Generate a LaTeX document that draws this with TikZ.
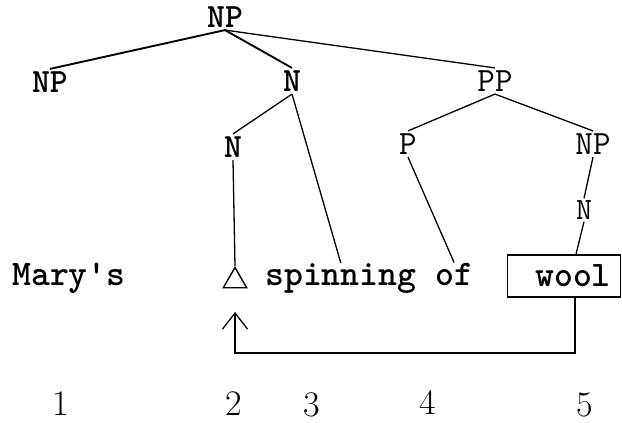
\documentclass[tikz,border=0pt]{standalone}
\usetikzlibrary{shapes.geometric,arrows.meta}
\begin{document}
\begin{tikzpicture}[x=1pt,y=-1pt,
  lab/.style={font=\fontsize{34}{36}\selectfont\ttfamily, inner sep=2.5pt},
  blab/.style={lab, font=\fontsize{34}{36}\selectfont\ttfamily\bfseries},
  slab/.style={font=\fontsize{31}{34}\selectfont\ttfamily, inner sep=2pt},
  word/.style={font=\fontsize{36}{40}\selectfont\ttfamily\bfseries, inner sep=0pt, anchor=base west},
  num/.style={font=\fontsize{36}{40}\selectfont, inner sep=0pt},
  edge/.style={line width=1.3pt},
  thick edge/.style={line width=1.9pt},
  arr/.style={line width=1.3pt, -{Straight Barb[length=16pt,width=25pt,line width=1.3pt]}}
]
\useasboundingbox (0,0) rectangle (622,423);
% tree labels
\node[blab] (nptop) at (225,17) {NP};
\node[blab] (npl)   at (50,82)  {NP};
\node[blab] (nmid)  at (292,81) {N};
\node[lab]  (pp)    at (495,81) {PP};
\node[blab] (nlow)  at (233,147) {N};
\node[lab]  (p)     at (408,144) {P};
\node[lab]  (npr)   at (593,144) {NP};
\node[slab] (nsm)   at (584,210) {N};
% words
\node[word] (mary) at (12,285) {Mary's};
\node[regular polygon, regular polygon sides=3, draw, line width=1.4pt,
      minimum size=27pt, inner sep=0pt] (tri) at (235,281) {};
\node[word] (spin) at (265,285) {spinning};
\node[word] (of)   at (435,285) {of};
\node[draw, line width=1.3pt, inner xsep=0pt, minimum height=42pt,
      font=\fontsize{36}{40}\selectfont\ttfamily\bfseries] (wool) at (564,276)
      {\hspace*{28pt}wool\hspace*{10pt}};
% edges
\draw[thick edge] (nptop.south) -- (npl.north);
\draw[thick edge] (nptop.south) -- (nmid.north);
\draw[edge] (nptop.south) -- (pp.north);
\draw[edge] (nmid.south) -- (nlow.north);
\draw[edge] (nmid.south) -- (spin.north);
\draw[edge] (pp.south) -- (p.north);
\draw[edge] (pp.south) -- (npr.north);
\draw[edge] (nlow.south) -- (tri.north);
\draw[edge] (p.south) -- (of.north);
\draw[edge] (npr.south) -- (nsm.north);
\coordinate (wtop) at ([xshift=12pt]wool.north);
\draw[edge] (nsm.south) -- (wtop);
% movement arrow
\coordinate (turn) at (575,353);
\coordinate (tip) at (235,312);
\draw[arr] (wool.south -| turn) -- (turn) -| (tip);
% numbers
\node[num] (n1) at (61,404) {1};
\node[num] (n2) at (234,404) {2};
\node[num] (n3) at (312,405) {3};
\node[num] (n4) at (428,402) {4};
\node[num] (n5) at (585,405) {5};
\end{tikzpicture}
\end{document}
